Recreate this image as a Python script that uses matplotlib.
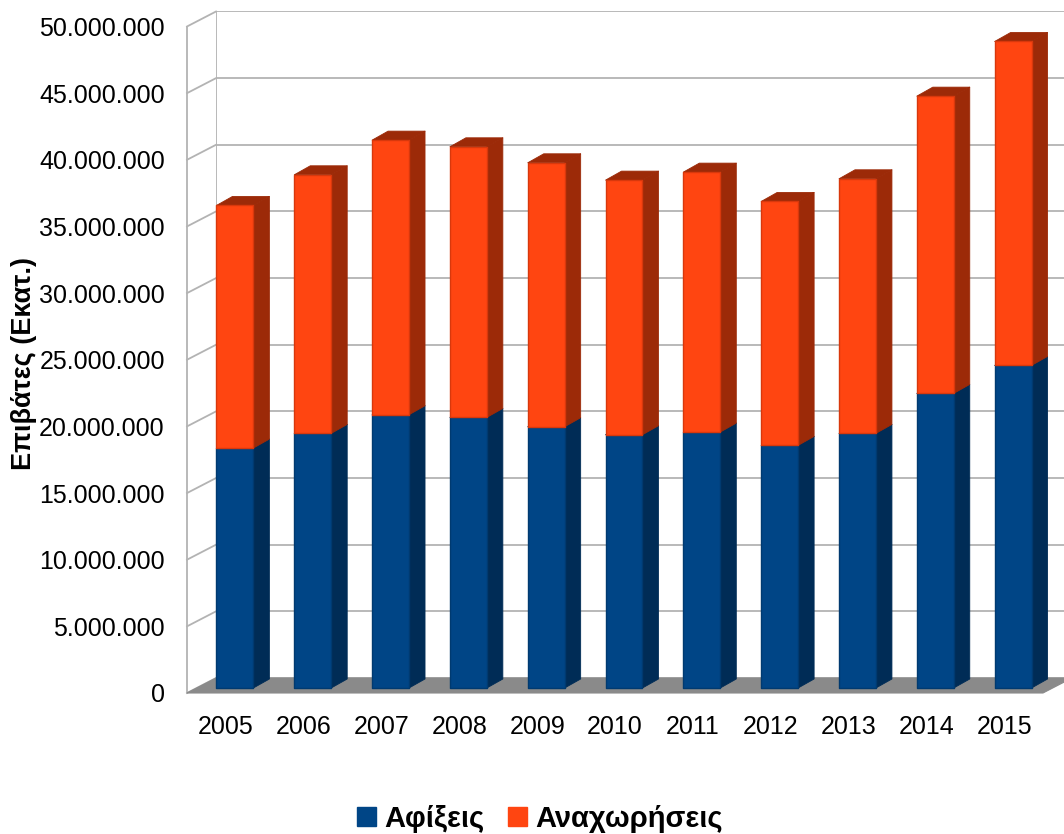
import matplotlib
matplotlib.use("Agg")
import matplotlib.pyplot as plt
from matplotlib.patches import Polygon, Patch
from matplotlib.lines import Line2D
from matplotlib.transforms import IdentityTransform

plt.rcParams['font.family'] = ['Liberation Sans', 'DejaVu Sans']

# Passengers per year (arrivals + departures)
years = ['2005', '2006', '2007', '2008', '2009', '2010',
         '2011', '2012', '2013', '2014', '2015']
arrivals = [18.0e6, 19.1e6, 20.5e6, 20.3e6, 19.6e6, 19.0e6,
            19.2e6, 18.2e6, 19.1e6, 22.1e6, 24.2e6]
departures = [18.2e6, 19.4e6, 20.6e6, 20.3e6, 19.8e6, 19.1e6,
              19.5e6, 18.3e6, 19.1e6, 22.3e6, 24.3e6]
yticks = [0, 5e6, 10e6, 15e6, 20e6, 25e6, 30e6, 35e6, 40e6, 45e6, 50e6]
series_names = ['Αφίξεις', 'Αναχωρήσεις']
ylabel = 'Επιβάτες (Εκατ.)'

W, H = 1064, 834
fig = plt.figure(figsize=(W / 100, H / 100), dpi=100)
fig.patch.set_facecolor('white')

BLUE, BLUE_SIDE, BLUE_EDGE = '#004586', '#002c56', '#003a70'
ORANGE, ORANGE_SIDE, ORANGE_EDGE = '#ff4511', '#9c2a08', '#d8380c'
GRID = '#b3b3b3'
FLOOR = '#8a8a8a'

pw, ph = 856, 666.5
xlim = (-0.5, len(years) - 0.5)
ylim = (0, 50e6)


def plane(left, base):
    a = fig.add_axes([left / W, (H - base) / H, pw / W, ph / H])
    a.set_xlim(*xlim)
    a.set_ylim(*ylim)
    a.patch.set_alpha(0)
    for s in a.spines.values():
        s.set_visible(False)
    return a


# back wall, bar plane and front plane of the 3D box
axB = plane(216, 678)
axM = plane(196, 688)
axF = plane(187, 693)
axB.set_zorder(0)
axM.set_zorder(2)
axF.set_zorder(3)
for a in (axB, axM):
    a.set_xticks([])
    a.set_yticks([])

# back wall grid
for v in yticks:
    axB.axhline(v, color=GRID, lw=1.3, zorder=1)
axB.axvline(xlim[0], color=GRID, lw=1.3, zorder=1)


def disp(a, x, y):
    return tuple(a.transData.transform((x, y)))


# left wall edges and tick slants
wall_lines = [[disp(axF, xlim[0], v), disp(axB, xlim[0], v)] for v in yticks]
wall_lines.append([disp(axF, xlim[0], ylim[0]), disp(axF, xlim[0], ylim[1])])
for seg in wall_lines:
    (x0, y0), (x1, y1) = seg
    fig.add_artist(Line2D([x0, x1], [y0, y1], color=GRID, lw=1.3,
                          transform=IdentityTransform(), zorder=0.5))

# floor
floor = Polygon([disp(axF, xlim[0], 0), disp(axF, xlim[1], 0),
                 disp(axB, xlim[1], 0), disp(axB, xlim[0], 0)],
                closed=True, facecolor=FLOOR, edgecolor=FLOOR, lw=0.8,
                transform=IdentityTransform(), zorder=0.6)
fig.add_artist(floor)

# bars
x = list(range(len(years)))
bw = 0.475
DX, DY = 16, 9


def depth_faces(xc, y0, y1, side_color, z):
    xl, xr = xc - bw / 2, xc + bw / 2
    (pl0, q0), (pr0, _) = disp(axM, xl, y0), disp(axM, xr, y0)
    (_, q1) = disp(axM, xl, y1)
    side = Polygon([(pr0, q0), (pr0 + DX, q0 + DY), (pr0 + DX, q1 + DY), (pr0, q1)],
                   closed=True, facecolor=side_color, edgecolor=side_color, lw=0.6,
                   transform=IdentityTransform(), clip_on=False, zorder=z,
                   joinstyle='round')
    top = Polygon([(pl0, q1), (pr0, q1), (pr0 + DX, q1 + DY), (pl0 + DX, q1 + DY)],
                  closed=True, facecolor=side_color, edgecolor=side_color, lw=0.6,
                  transform=IdentityTransform(), clip_on=False, zorder=z,
                  joinstyle='round')
    axM.add_artist(side)
    axM.add_artist(top)


totals = [a + d for a, d in zip(arrivals, departures)]
for i in x:
    depth_faces(i, 0, arrivals[i], BLUE_SIDE, 2)
    depth_faces(i, arrivals[i], totals[i], ORANGE_SIDE, 4)

axM.bar(x, arrivals, width=bw, color=BLUE, edgecolor=BLUE_EDGE, lw=1.0,
        joinstyle='round', zorder=3, clip_on=False)
axM.bar(x, departures, bottom=arrivals, width=bw, color=ORANGE,
        edgecolor=ORANGE_EDGE, lw=1.0, joinstyle='round', zorder=5, clip_on=False)
axM.set_xlim(*xlim)
axM.set_ylim(*ylim)

# tick labels on the front plane
axF.set_yticks(yticks)
axF.set_yticklabels([f"{int(v):,}".replace(',', '.') for v in yticks])
axF.set_xticks(x)
axF.set_xticklabels(years)
axF.tick_params(axis='y', length=0, pad=16, labelsize=18)
axF.tick_params(axis='x', length=0, pad=16, labelsize=18)

fig.text(24 / W, (H - 364) / H, ylabel, rotation=90, ha='center', va='center',
         fontsize=19.5, fontweight='bold')

handles = [Patch(facecolor=BLUE, edgecolor=BLUE), Patch(facecolor=ORANGE, edgecolor=ORANGE)]
fig.legend(handles, series_names, loc='center', bbox_to_anchor=(540 / W, 15 / H),
           ncol=2, frameon=False, prop={'size': 21, 'weight': 'bold'},
           handlelength=0.65, handleheight=0.65, handletextpad=0.3,
           columnspacing=0.8)

fig.savefig('out.png', dpi=100, facecolor='white')
